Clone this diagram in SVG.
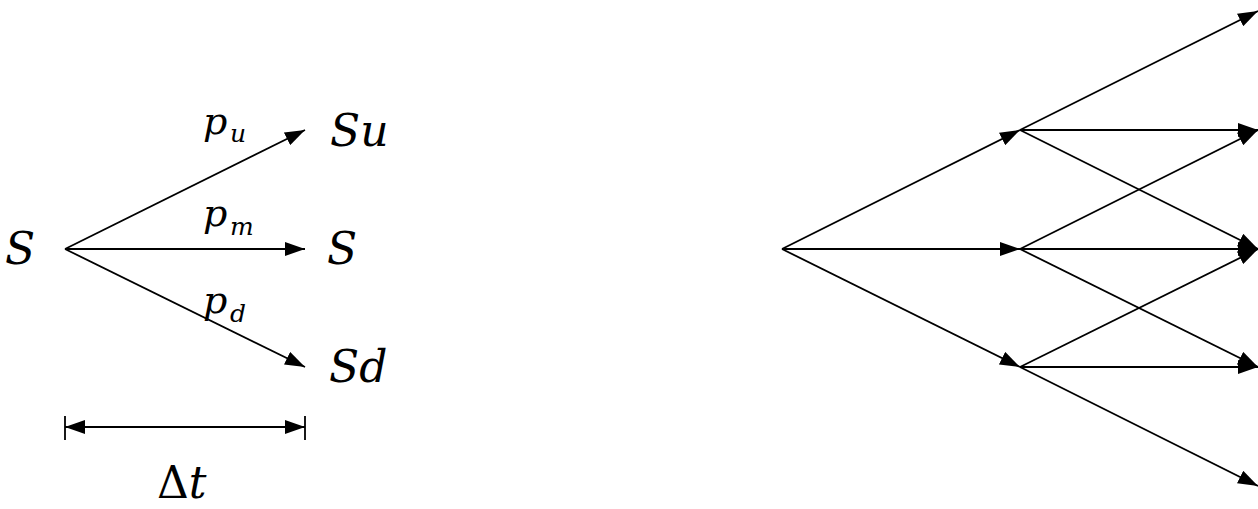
<svg xmlns="http://www.w3.org/2000/svg" width="1258" height="509" viewBox="0 0 1258 509">
<style>
.ln{stroke:#000;stroke-width:1.8;fill:none}
.m{font-family:"DejaVu Serif","Liberation Serif",serif;font-style:italic;fill:#000}
.big{font-size:44px}
.p{font-size:38px}
.sub{font-size:25px}
.up{font-style:normal}
</style>
<defs>
<marker id="ah" markerUnits="userSpaceOnUse" markerWidth="20" markerHeight="14" refX="20" refY="7" orient="auto">
<path d="M0,0 L20,7 L0,14 z" fill="#000"/>
</marker>
<marker id="ahs" markerUnits="userSpaceOnUse" markerWidth="20" markerHeight="14" refX="20" refY="7" orient="auto-start-reverse">
<path d="M0,0 L20,7 L0,14 z" fill="#000"/>
</marker>
</defs>
<g id="left-nodes">
<g id="n-S0"><text class="m big" x="5" y="264">S</text></g>
<g id="n-Su"><text class="m big" x="330" y="146">Su</text></g>
<g id="n-S1"><text class="m big" x="327" y="264">S</text></g>
<g id="n-Sd"><text class="m big" x="329" y="382">Sd</text></g>
</g>
<g id="left-connectors">
<line class="ln" x1="65" y1="249" x2="305" y2="130" marker-end="url(#ah)"/>
<line class="ln" x1="65" y1="249" x2="305" y2="249" marker-end="url(#ah)"/>
<line class="ln" x1="65" y1="249" x2="305" y2="367" marker-end="url(#ah)"/>
</g>
<g id="labels">
<text class="m p" x="203" y="134">p<tspan class="sub" x="230" y="142">u</tspan></text>
<text class="m p" x="203" y="226">p<tspan class="sub" x="230" y="235">m</tspan></text>
<text class="m p" x="203" y="313">p<tspan class="sub" x="230" y="322">d</tspan></text>
</g>
<g id="dimension">
<line class="ln" x1="65" y1="427" x2="305" y2="427" marker-start="url(#ahs)" marker-end="url(#ah)"/>
<line class="ln" x1="65" y1="416" x2="65" y2="440"/>
<line class="ln" x1="305" y1="416" x2="305" y2="440"/>
<text class="m" font-size="44" x="157" y="498"><tspan class="up">Δ</tspan>t</text>
</g>
<g id="tree-connectors">
<line class="ln" x1="782" y1="249" x2="1020" y2="130" marker-end="url(#ah)"/>
<line class="ln" x1="782" y1="249" x2="1020" y2="249" marker-end="url(#ah)"/>
<line class="ln" x1="782" y1="249" x2="1020" y2="367" marker-end="url(#ah)"/>
<line class="ln" x1="1020" y1="130" x2="1258" y2="11" marker-end="url(#ah)"/>
<line class="ln" x1="1020" y1="130" x2="1258" y2="130" marker-end="url(#ah)"/>
<line class="ln" x1="1020" y1="130" x2="1258" y2="249" marker-end="url(#ah)"/>
<line class="ln" x1="1020" y1="249" x2="1258" y2="130" marker-end="url(#ah)"/>
<line class="ln" x1="1020" y1="249" x2="1258" y2="249" marker-end="url(#ah)"/>
<line class="ln" x1="1020" y1="249" x2="1258" y2="367" marker-end="url(#ah)"/>
<line class="ln" x1="1020" y1="367" x2="1258" y2="249" marker-end="url(#ah)"/>
<line class="ln" x1="1020" y1="367" x2="1258" y2="367" marker-end="url(#ah)"/>
<line class="ln" x1="1020" y1="367" x2="1258" y2="486" marker-end="url(#ah)"/>
</g>
</svg>
